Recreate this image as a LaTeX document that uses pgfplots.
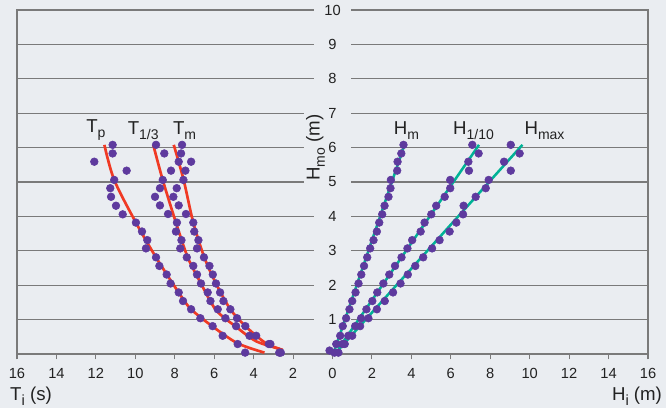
\documentclass[border=0pt]{standalone}
\usepackage{fontspec}
\setmainfont{Liberation Sans}
\usepackage{pgfplots}
\pgfplotsset{compat=1.18}
\usetikzlibrary{backgrounds}
\definecolor{bg}{HTML}{EAEDF1}
\definecolor{dotc}{HTML}{5E3A9E}
\definecolor{redc}{HTML}{F03A24}
\definecolor{tealc}{HTML}{00B296}
\definecolor{gridc}{HTML}{7A7A7A}
\definecolor{txt}{HTML}{222222}
\newcommand\sub[1]{\raisebox{-0.28em}{\fontsize{10.5}{12}\selectfont #1}}
\newcommand\subi[1]{\raisebox{-0.28em}{\fontsize{11}{12}\selectfont #1}}
\begin{document}
\begin{tikzpicture}
\begin{axis}[
  width=473.25pt, height=258pt, scale only axis,
  xmin=-16, xmax=16, ymin=0, ymax=10,
  axis line style={draw=gridc, line width=1pt},
  xtick={-16,-14,...,16},
  xticklabels={16,14,12,10,8,6,4,2,0,2,4,6,8,10,12,14,16},
  x tick label style={font=\fontsize{11}{13}\selectfont, text=txt, yshift=-3pt},
  /pgf/number format/assume math mode=true,
  tick align=outside,
  major tick length=4pt,
  xtick style={draw=gridc, line width=0.8pt},
  xtick pos=bottom,
  ytick={1,...,10},
  yticklabels={},
  ytick style={draw=none},
  ymajorgrids,
  grid style={draw=gridc, line width=0.9pt},
  clip=false,
]
\coordinate (LL) at (axis cs:-16,0);
% y tick labels centred on x=0 (with gap in grid lines)
\foreach \k in {1,...,10}{
  \edef\tmp{\noexpand\node[fill=bg, minimum width=28pt, inner sep=1pt, font=\noexpand\fontsize{11}{13}\noexpand\selectfont, text=txt] at (axis cs:0,\k) {\k};}
  \tmp
}
\node[fill=bg, inner sep=1.5pt, rotate=90, font=\fontsize{14}{16}\selectfont, text=txt] at (axis cs:-0.86,6.0) {H\sub{mo} (m)};

% red fitted curves
\addplot[redc, line width=2pt, smooth] coordinates {
(-11.57,6.08) (-11.07,5.06) (-9.97,3.82) (-8.95,2.81) (-7.77,1.76) (-7.17,1.30) (-6.08,0.80) (-4.81,0.31) (-3.45,0.04)};
\addplot[redc, line width=2pt, smooth] coordinates {
(-9.09,6.08) (-8.61,5.06) (-7.94,3.82) (-7.34,2.81) (-6.67,2.05) (-5.91,1.28) (-4.89,0.79) (-3.87,0.37) (-2.69,0.15)};
\addplot[redc, line width=2pt, smooth] coordinates {
(-8.05,6.08) (-7.55,5.06) (-7.06,3.82) (-6.50,2.81) (-5.91,2.05) (-5.18,1.30) (-4.38,0.79) (-3.37,0.31) (-2.52,0.12)};
% teal lines
\addplot[tealc, line width=1.9pt] coordinates {(0.10,0.10) (3.65,6.08)};
\addplot[tealc, line width=1.9pt] coordinates {(0.30,0.15) (7.43,6.08)};
\addplot[tealc, line width=1.9pt] coordinates {(0.35,0.15) (9.63,6.08)};

% dots
\addplot[only marks, mark=*, mark size=2.9pt, dotc, mark options={draw=dotc, fill=dotc}] coordinates {
(-11.15,6.08) (-11.15,5.83) (-12.08,5.59) (-10.44,5.33) (-11.07,5.06) (-11.27,4.82) (-11.23,4.57) (-10.98,4.31) (-10.64,4.06) (-9.97,3.82) (-9.66,3.56) (-9.39,3.31) (-9.46,3.07) (-8.95,2.81) (-8.78,2.56) (-8.41,2.31) (-8.21,2.05) (-7.80,1.79) (-7.58,1.54) (-7.17,1.30) (-6.70,1.04) (-6.08,0.81) (-5.57,0.53) (-4.81,0.29) (-4.43,0.04)};
\addplot[only marks, mark=*, mark size=2.9pt, dotc, mark options={draw=dotc, fill=dotc}] coordinates {
(-8.95,6.08) (-8.53,5.83) (-7.80,5.59) (-8.19,5.33) (-8.61,5.06) (-8.75,4.82) (-9.00,4.57) (-8.75,4.32) (-8.34,4.07) (-7.89,3.82) (-7.94,3.56) (-7.66,3.31) (-7.72,3.07) (-7.39,2.81) (-7.06,2.56) (-6.87,2.31) (-6.67,2.05) (-6.33,1.79) (-6.19,1.54) (-5.82,1.30) (-5.43,1.04) (-4.89,0.81) (-4.21,0.53) (-3.23,0.29) (-2.70,0.04)};
\addplot[only marks, mark=*, mark size=2.9pt, dotc, mark options={draw=dotc, fill=dotc}] coordinates {
(-7.63,6.08) (-7.68,5.83) (-7.17,5.59) (-7.46,5.33) (-7.56,5.06) (-7.90,4.82) (-8.07,4.57) (-7.80,4.32) (-7.43,4.07) (-7.06,3.82) (-7.01,3.56) (-6.80,3.31) (-6.87,3.07) (-6.52,2.81) (-6.24,2.56) (-6.07,2.31) (-5.91,2.05) (-5.70,1.79) (-5.53,1.54) (-5.18,1.30) (-4.84,1.04) (-4.42,0.81) (-3.87,0.53) (-3.15,0.29) (-2.62,0.04)};
\addplot[only marks, mark=*, mark size=2.9pt, dotc, mark options={draw=dotc, fill=dotc}] coordinates {
(3.60,6.08) (3.49,5.83) (3.30,5.59) (3.28,5.33) (2.96,5.06) (2.94,4.82) (2.84,4.57) (2.64,4.31) (2.52,4.06) (2.37,3.82) (2.25,3.56) (2.08,3.31) (1.91,3.07) (1.76,2.81) (1.60,2.56) (1.46,2.31) (1.32,2.05) (1.17,1.79) (1.00,1.54) (0.86,1.30) (0.69,1.04) (0.52,0.81) (0.39,0.53) (0.19,0.29) (-0.15,0.10)};
\addplot[only marks, mark=*, mark size=2.9pt, dotc, mark options={draw=dotc, fill=dotc}] coordinates {
(7.09,6.08) (7.41,5.83) (6.89,5.59) (6.92,5.33) (5.97,5.06) (5.97,4.82) (5.69,4.57) (5.26,4.31) (5.01,4.06) (4.67,3.82) (4.47,3.56) (4.04,3.31) (3.80,3.07) (3.50,2.81) (3.17,2.56) (2.88,2.31) (2.58,2.05) (2.27,1.79) (2.02,1.54) (1.72,1.30) (1.45,1.04) (1.15,0.81) (0.80,0.53) (0.50,0.29) (0.10,0.04)};
\addplot[only marks, mark=*, mark size=2.9pt, dotc, mark options={draw=dotc, fill=dotc}] coordinates {
(9.04,6.08) (9.49,5.83) (8.70,5.59) (9.04,5.33) (7.92,5.06) (7.77,4.82) (7.26,4.57) (6.65,4.31) (6.62,4.06) (6.28,3.82) (5.94,3.56) (5.43,3.31) (5.05,3.07) (4.60,2.81) (4.20,2.56) (3.82,2.31) (3.45,2.05) (3.07,1.79) (2.65,1.54) (2.25,1.30) (1.82,1.04) (1.40,0.81) (1.00,0.53) (0.62,0.29) (0.30,0.04)};

% series labels
\node[font=\fontsize{14}{16}\selectfont, text=txt] at (axis cs:-12.0,6.5) {T\sub{p}};
\node[font=\fontsize{14}{16}\selectfont, text=txt] at (axis cs:-9.6,6.5) {T\sub{1/3}};
\node[font=\fontsize{14}{16}\selectfont, text=txt] at (axis cs:-7.5,6.5) {T\sub{m}};
\node[font=\fontsize{14}{16}\selectfont, text=txt] at (axis cs:3.75,6.5) {H\sub{m}};
\node[font=\fontsize{14}{16}\selectfont, text=txt] at (axis cs:7.15,6.5) {H\sub{1/10}};
\node[font=\fontsize{14}{16}\selectfont, text=txt] at (axis cs:10.75,6.5) {H\sub{max}};
\end{axis}
\node[font=\fontsize{14}{16}\selectfont, text=txt] at ([xshift=10.5pt, yshift=-31.5pt]LL) {T\subi{i} (s)};
\node[font=\fontsize{14}{16}\selectfont, text=txt] at ([xshift=465pt, yshift=-31.5pt]LL) {H\subi{i} (m)};
\pgfresetboundingbox
\path[use as bounding box] ([xshift=-12.75pt, yshift=-40.5pt]LL) rectangle ++(499.5pt,306pt);
\begin{pgfonlayer}{background}
\fill[bg] ([xshift=-12.75pt, yshift=-40.5pt]LL) rectangle ++(499.5pt,306pt);
\end{pgfonlayer}
\end{tikzpicture}
\end{document}
